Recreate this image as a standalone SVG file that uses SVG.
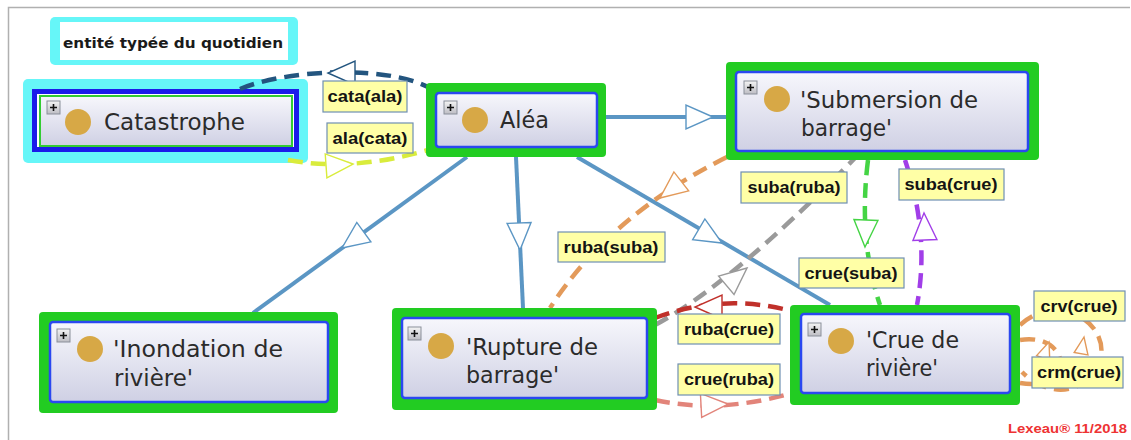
<svg xmlns="http://www.w3.org/2000/svg" xmlns:xlink="http://www.w3.org/1999/xlink" width="1131" height="440" viewBox="0 0 1131 440">
<defs>
<linearGradient id="nodeFill" x1="0" y1="0" x2="0" y2="1">
<stop offset="0" stop-color="#f7f7fc"/>
<stop offset="1" stop-color="#cfd0e4"/>
</linearGradient>
<linearGradient id="plusFill" x1="0" y1="0" x2="0" y2="1">
<stop offset="0" stop-color="#f4f4f4"/>
<stop offset="1" stop-color="#bdbdc4"/>
</linearGradient>
<path id="tri" d="M0,0 L-27,-12 L-27,12 Z"/>
<path id="trism" d="M0,0 L-17,-7 L-17,7 Z"/>
<g id="plus">
<rect x="0" y="0" width="13" height="13" fill="url(#plusFill)" stroke="#8a8f9a" stroke-width="1"/>
<path d="M3,6.5 H10 M6.5,3 V10" stroke="#111" stroke-width="1.6"/>
</g>
</defs>
<style>
.frame{stroke:#b0b0b0;stroke-width:1.5;fill:none}
.halo{fill:#66f6f8}
.green{fill:#22cc22}
.body{fill:url(#nodeFill);stroke:#2a48f0;stroke-width:2.5}
.dot{fill:#d7a846}
.ntext{font-family:"DejaVu Sans","Liberation Sans",sans-serif;font-size:22.5px;fill:#2b2b2b}
.solid{fill:none;stroke:#5b96c4;stroke-width:4}
.dash{fill:none;stroke-width:4.5;stroke-dasharray:15 8}
.a{fill:#fff;stroke-width:1.4}
.lbl{fill:#ffffa6;stroke:#6f8fb2;stroke-width:1.2}
.ltext{font-family:"Liberation Sans",Arial,sans-serif;font-weight:bold;font-size:17px;fill:#141414;text-anchor:middle}
</style>
<rect x="0" y="0" width="1131" height="440" fill="#fff"/>
<path class="frame" d="M8.5,440 V7.5 H1130"/>

<g id="legend">
<rect class="halo" x="50" y="17" width="248" height="48" rx="5"/>
<rect x="60" y="22" width="228" height="38" fill="#fff"/>
<text x="63" y="48" font-family="'DejaVu Sans','Liberation Sans',sans-serif" font-weight="bold" font-size="13.5" fill="#1a1a1a" textLength="220" lengthAdjust="spacingAndGlyphs">entité typée du quotidien</text>
</g>

<g id="node-catastrophe">
<rect class="halo" x="23" y="79" width="285" height="84" rx="5"/>
<rect x="34.5" y="91.5" width="262" height="58" fill="#fff" stroke="#1b1bea" stroke-width="5"/>
<rect x="40" y="96" width="252" height="50" fill="url(#nodeFill)" stroke="#33cc33" stroke-width="2"/>
<use xlink:href="#plus" x="47" y="101"/>
<circle class="dot" cx="78" cy="122" r="13"/>
<text class="ntext" x="104" y="130" textLength="141" lengthAdjust="spacingAndGlyphs">Catastrophe</text>
</g>

<g id="connectors">
<path class="solid" d="M606,117 L726,117"/>
<path class="solid" d="M467,157 L253,313"/>
<path class="solid" d="M516,157 L523,308"/>
<path class="solid" d="M577,157 L830,305"/>
<path class="dash" stroke="#23557f" d="M240,89 C285,70 385,64 430,88"/>
<path class="dash" stroke="#d9ec3c" d="M288,160 Q352,172 428,150"/>
<path class="dash" stroke="#e39a5a" d="M727,157 Q610,215 550,308"/>
<path class="dash" stroke="#9a9a9a" d="M655,325 Q730,285 855,158"/>
<path class="dash" stroke="#44d444" d="M868,160 Q858,240 880,305"/>
<path class="dash" stroke="#a13ee8" d="M905,160 Q930,235 917,305"/>
<path class="dash" stroke="#c0302a" d="M655,318 Q725,292 795,312"/>
<path class="dash" stroke="#e2847a" d="M655,400 Q720,414 792,393"/>
<path class="dash" stroke="#e39a5a" d="M1020,325 C1065,285 1125,335 1092,375 C1075,395 1045,395 1022,372"/>
<path class="dash" stroke="#e39a5a" d="M1020,340 C1050,335 1064,355 1060,368 C1056,382 1040,386 1020,383"/>
<use xlink:href="#tri" class="a" stroke="#5b96c4" transform="translate(713,117)"/>
<use xlink:href="#tri" class="a" stroke="#5b96c4" transform="translate(342,248) rotate(144)"/>
<use xlink:href="#tri" class="a" stroke="#5b96c4" transform="translate(520,250) rotate(88)"/>
<use xlink:href="#tri" class="a" stroke="#5b96c4" transform="translate(722,243) rotate(30.6)"/>
<use xlink:href="#tri" class="a" stroke="#23557f" transform="translate(328,73) rotate(180)"/>
<use xlink:href="#tri" class="a" stroke="#d9ec3c" transform="translate(353,164) rotate(-4)"/>
<use xlink:href="#tri" class="a" stroke="#e39a5a" transform="translate(660,198) rotate(142)"/>
<use xlink:href="#tri" class="a" stroke="#9a9a9a" transform="translate(747,268) rotate(-40)"/>
<use xlink:href="#tri" class="a" stroke="#44d444" transform="translate(865,247) rotate(92)"/>
<use xlink:href="#tri" class="a" stroke="#a13ee8" transform="translate(924,213) rotate(-92)"/>
<use xlink:href="#tri" class="a" stroke="#c0302a" transform="translate(695,307) rotate(180)"/>
<use xlink:href="#tri" class="a" stroke="#e2847a" transform="translate(728,404) rotate(-3)"/>
<use xlink:href="#trism" class="a" stroke="#e39a5a" transform="translate(1084,337) rotate(-80)"/>
<use xlink:href="#trism" class="a" stroke="#e39a5a" transform="translate(1049,342) rotate(-70)"/>
</g>

<g id="node-alea">
<rect class="green" x="426" y="83" width="180" height="74" rx="4"/>
<rect class="body" x="436" y="93" width="161" height="54" rx="3"/>
<use xlink:href="#plus" x="444" y="101"/>
<circle class="dot" cx="475" cy="120" r="13"/>
<text class="ntext" x="500" y="128" textLength="49" lengthAdjust="spacingAndGlyphs">Aléa</text>
</g>

<g id="node-submersion">
<rect class="green" x="726" y="62" width="313" height="98" rx="4"/>
<rect class="body" x="736" y="72" width="292" height="79" rx="3"/>
<use xlink:href="#plus" x="744" y="81"/>
<circle class="dot" cx="777" cy="99" r="13"/>
<text class="ntext" x="800" y="108" textLength="178" lengthAdjust="spacingAndGlyphs">'Submersion de</text>
<text class="ntext" x="801" y="136" textLength="91" lengthAdjust="spacingAndGlyphs">barrage'</text>
</g>

<g id="node-inondation">
<rect class="green" x="39" y="312" width="299" height="101" rx="4"/>
<rect class="body" x="50" y="322" width="278" height="80" rx="3"/>
<use xlink:href="#plus" x="57" y="329"/>
<circle class="dot" cx="90" cy="349" r="13"/>
<text class="ntext" x="113" y="357" textLength="170" lengthAdjust="spacingAndGlyphs">'Inondation de</text>
<text class="ntext" x="114" y="386" textLength="79" lengthAdjust="spacingAndGlyphs">rivière'</text>
</g>

<g id="node-rupture">
<rect class="green" x="392" y="308" width="265" height="102" rx="4"/>
<rect class="body" x="402" y="318" width="245" height="80" rx="3"/>
<use xlink:href="#plus" x="408" y="327"/>
<circle class="dot" cx="441" cy="346" r="13"/>
<text class="ntext" x="466" y="355" textLength="132" lengthAdjust="spacingAndGlyphs">'Rupture de</text>
<text class="ntext" x="466" y="383" textLength="93" lengthAdjust="spacingAndGlyphs">barrage'</text>
</g>

<g id="node-crue">
<rect class="green" x="790" y="305" width="230" height="100" rx="4"/>
<rect class="body" x="801" y="314" width="209" height="79" rx="3"/>
<use xlink:href="#plus" x="808" y="323"/>
<circle class="dot" cx="841" cy="341" r="13"/>
<text class="ntext" x="866" y="348" textLength="93" lengthAdjust="spacingAndGlyphs">'Crue de</text>
<text class="ntext" x="866" y="376" textLength="72" lengthAdjust="spacingAndGlyphs">rivière'</text>
</g>

<g id="connector-labels">
<rect class="lbl" x="323" y="81" width="84" height="31"/>
<text class="ltext" x="365" y="102" textLength="75" lengthAdjust="spacingAndGlyphs">cata(ala)</text>
<rect class="lbl" x="327" y="123" width="86" height="30"/>
<text class="ltext" x="370" y="144" textLength="75" lengthAdjust="spacingAndGlyphs">ala(cata)</text>
<rect class="lbl" x="741" y="172" width="106" height="31"/>
<text class="ltext" x="794" y="193" textLength="93" lengthAdjust="spacingAndGlyphs">suba(ruba)</text>
<rect class="lbl" x="899" y="169" width="105" height="31"/>
<text class="ltext" x="951" y="190" textLength="93" lengthAdjust="spacingAndGlyphs">suba(crue)</text>
<rect class="lbl" x="799" y="258" width="105" height="30"/>
<text class="ltext" x="851" y="279" textLength="93" lengthAdjust="spacingAndGlyphs">crue(suba)</text>
<rect class="lbl" x="558" y="232" width="107" height="30"/>
<text class="ltext" x="611" y="253" textLength="95" lengthAdjust="spacingAndGlyphs">ruba(suba)</text>
<rect class="lbl" x="678" y="314" width="102" height="30"/>
<text class="ltext" x="729" y="335" textLength="90" lengthAdjust="spacingAndGlyphs">ruba(crue)</text>
<rect class="lbl" x="678" y="364" width="102" height="31"/>
<text class="ltext" x="729" y="385" textLength="90" lengthAdjust="spacingAndGlyphs">crue(ruba)</text>
<rect class="lbl" x="1034" y="291" width="91" height="30"/>
<text class="ltext" x="1079" y="312" textLength="77" lengthAdjust="spacingAndGlyphs">crv(crue)</text>
<rect class="lbl" x="1032" y="357" width="91" height="31"/>
<text class="ltext" x="1079" y="378" textLength="84" lengthAdjust="spacingAndGlyphs">crm(crue)</text>
</g>

<text x="1008" y="433" font-family="'Liberation Sans',Arial,sans-serif" font-weight="bold" font-size="13.5" fill="#ee3333" textLength="119" lengthAdjust="spacingAndGlyphs">Lexeau® 11/2018</text>
</svg>
